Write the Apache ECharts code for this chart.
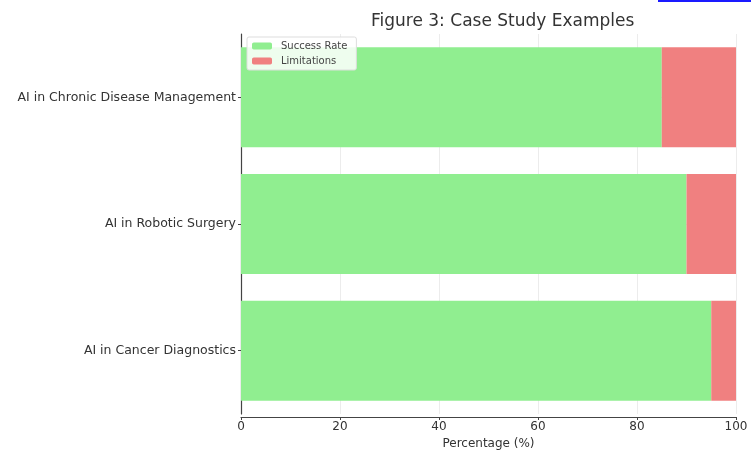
<!DOCTYPE html>
<html>
<head>
<meta charset="utf-8">
<script src="https://cdn.jsdelivr.net/npm/echarts@6/dist/echarts.min.js"></script>
<style>
  html, body { margin: 0; padding: 0; background: #fff; }
  #chart { width: 751px; height: 452px; }
</style>
</head>
<body>
<div id="chart"></div>
<script>
// Case study categories, listed bottom to top
const categories = ['AI in Cancer Diagnostics', 'AI in Robotic Surgery', 'AI in Chronic Disease Management'];
const successRate = [95, 90, 85];
const limitations = [5, 10, 15];
const xTicks = [0, 20, 40, 60, 80, 100];

const font = 'DejaVu Sans';
const chart = echarts.init(document.getElementById('chart'), null, { renderer: 'canvas' });

chart.setOption({
  animation: false,
  backgroundColor: '#ffffff',
  title: {
    text: 'Figure 3: Case Study Examples',
    left: 366,
    top: 8,
    textStyle: { fontFamily: font, fontSize: 17, fontWeight: 'normal', color: '#333' }
  },
  graphic: [
    { type: 'rect', left: 658, top: 0, shape: { width: 93, height: 2 }, style: { fill: '#1a1aff' } }
  ],
  legend: {
    orient: 'vertical',
    left: 247,
    top: 37,
    padding: [4, 9, 4, 5],
    itemGap: 5,
    itemWidth: 20,
    itemHeight: 7,
    backgroundColor: 'rgba(255,255,255,0.85)',
    borderColor: '#dddddd',
    borderWidth: 1,
    borderRadius: 2,
    textStyle: { fontFamily: font, fontSize: 10, color: '#444', padding: [0, 0, 0, 4] },
    data: ['Success Rate', 'Limitations']
  },
  grid: { left: 241, right: 15, top: 34, height: 380, containLabel: false, outerBoundsMode: 'none' },
  xAxis: {
    type: 'value',
    min: 0,
    max: 100,
    interval: 20,
    offset: 3,
    name: 'Percentage (%)',
    nameLocation: 'middle',
    nameGap: 19,
    nameTextStyle: { fontFamily: font, fontSize: 12, color: '#333' },
    axisLine: { show: true, lineStyle: { color: '#444', width: 1.2 } },
    axisTick: { show: true, length: 3, lineStyle: { color: '#444' } },
    axisLabel: {
      fontFamily: font, fontSize: 12, color: '#333', margin: 4,
      formatter: v => xTicks.includes(v) ? String(v) : ''
    },
    splitLine: { show: true, lineStyle: { color: '#ececec', width: 1 } }
  },
  yAxis: {
    type: 'category',
    data: categories,
    axisLine: { show: true, lineStyle: { color: '#444', width: 1.2 } },
    axisTick: { show: true, alignWithLabel: true, length: 3, lineStyle: { color: '#444' } },
    axisLabel: { fontFamily: font, fontSize: 12.5, color: '#333', margin: 5 },
    splitLine: { show: true, alignWithLabel: true, lineStyle: { color: '#ececec', width: 1 } }
  },
  series: [
    {
      name: 'Success Rate',
      type: 'bar',
      stack: 'total',
      barWidth: '79%',
      itemStyle: { color: '#90EE90' },
      data: successRate
    },
    {
      name: 'Limitations',
      type: 'bar',
      stack: 'total',
      barWidth: '79%',
      itemStyle: { color: '#F08080' },
      data: limitations
    }
  ]
});
</script>
</body>
</html>
